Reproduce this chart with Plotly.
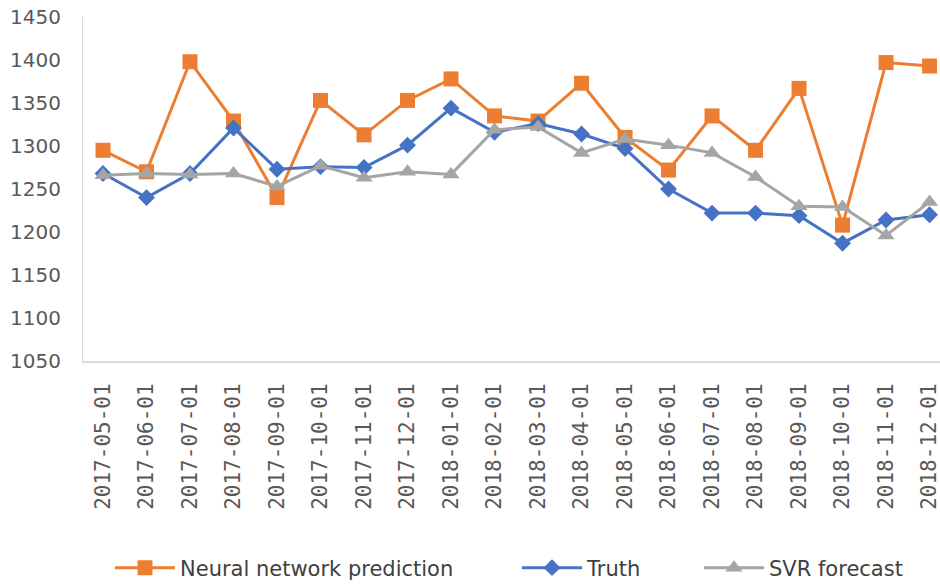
import plotly.graph_objects as go

# Monthly categories
months = [
    "2017-05-01", "2017-06-01", "2017-07-01", "2017-08-01", "2017-09-01",
    "2017-10-01", "2017-11-01", "2017-12-01", "2018-01-01", "2018-02-01",
    "2018-03-01", "2018-04-01", "2018-05-01", "2018-06-01", "2018-07-01",
    "2018-08-01", "2018-09-01", "2018-10-01", "2018-11-01", "2018-12-01",
]

# Series values
nn_prediction = [1295, 1270, 1398, 1329, 1240, 1353, 1313, 1353, 1378, 1335,
                 1329, 1373, 1310, 1272, 1335, 1295, 1367, 1208, 1397, 1393]
truth = [1268, 1240, 1268, 1321, 1273, 1276, 1275, 1301, 1344, 1316,
         1326, 1314, 1297, 1250, 1222, 1222, 1219, 1187, 1214, 1220]
svr_forecast = [1266, 1268, 1267, 1268, 1253, 1277, 1263, 1270, 1267, 1319,
                1322, 1292, 1308, 1301, 1292, 1264, 1230, 1229, 1196, 1235]

y_ticks = [1050, 1100, 1150, 1200, 1250, 1300, 1350, 1400, 1450]

ORANGE = "#ED7D31"
BLUE = "#4472C4"
GRAY = "#A5A5A5"

fig = go.Figure()
fig.add_trace(go.Scatter(
    x=months, y=nn_prediction, name="Neural network prediction",
    mode="lines+markers", legend="legend",
    line=dict(color=ORANGE, width=3),
    marker=dict(symbol="square", size=15, color=ORANGE),
))
fig.add_trace(go.Scatter(
    x=months, y=truth, name="Truth",
    mode="lines+markers", legend="legend2",
    line=dict(color=BLUE, width=3),
    marker=dict(symbol="diamond", size=13, color=BLUE),
))
fig.add_trace(go.Scatter(
    x=months, y=svr_forecast, name="SVR forecast",
    mode="lines+markers", legend="legend3",
    line=dict(color=GRAY, width=3),
    marker=dict(symbol="triangle-up", size=15, color=GRAY),
))


def legend_box(left_px):
    # one legend entry per box, placed along the bottom row
    return dict(
        orientation="h",
        x=left_px / 940, xref="container", xanchor="left",
        y=1 - 568 / 584, yref="container", yanchor="middle",
        font=dict(family="DejaVu Sans", size=21, color="#404040"),
        itemwidth=60,
        bgcolor="rgba(0,0,0,0)",
    )


fig.update_layout(
    width=940, height=584,
    margin=dict(l=83, r=0, t=17, b=223, autoexpand=False),
    paper_bgcolor="white", plot_bgcolor="white",
    showlegend=True,
    legend=legend_box(110),
    legend2=legend_box(517),
    legend3=legend_box(699),
)

fig.update_xaxes(
    type="category",
    range=[-0.46, 19.24],
    showgrid=False, zeroline=False,
    showline=True, linecolor="#D9D9D9", linewidth=2,
    ticks="outside", ticklen=12, tickcolor="rgba(0,0,0,0)",
    tickangle=-90,
    tickfont=dict(family="DejaVu Sans Mono", size=21, color="#595959"),
    automargin=False,
)

fig.update_yaxes(
    range=[1050, 1450],
    tickvals=y_ticks,
    showgrid=False, zeroline=False,
    showline=True, linecolor="#D9D9D9", linewidth=1,
    ticks="outside", ticklen=17, tickcolor="rgba(0,0,0,0)",
    tickfont=dict(family="DejaVu Sans", size=20, color="#595959"),
    automargin=False,
)

fig.write_html("out.html")
